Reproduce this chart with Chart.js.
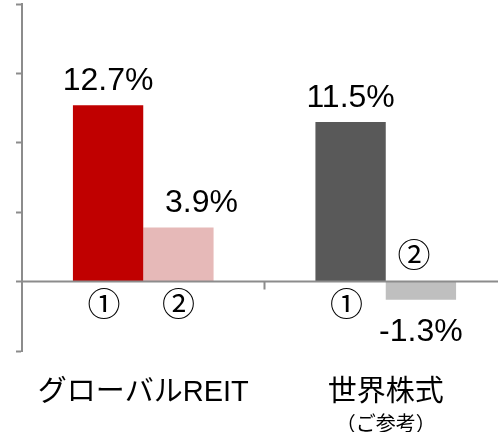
<!DOCTYPE html>
<html lang="ja">
<head>
    <meta charset="UTF-8">
    <title>グローバルREITと世界株式</title>
    <script src="https://cdn.jsdelivr.net/npm/chart.js"></script>
    <style>
        html, body { margin: 0; padding: 0; background: #fff; overflow: hidden; }
        #wrap { position: relative; width: 510px; height: 432px; }
    </style>
</head>
<body>
    <div id="wrap"><canvas id="grafico"></canvas></div>

    <script>
        // dados
        const categorias = ['グローバルREIT', '世界株式'];
        const subRotulos = ['', '（ご参考）'];
        const serie1 = [12.7, 11.5];
        const serie2 = [3.9, -1.3];
        const nomesSeries = ['①', '②'];
        const cores1 = ['#C00000', '#595959'];
        const cores2 = ['#E6B9B8', '#BFBFBF'];

        const fonteLatina = '"Liberation Sans", Arial, "Noto Sans CJK JP", sans-serif';
        const fonteJP = '"Noto Sans CJK JP", "Liberation Sans", sans-serif';

        // rotulos de valor, numeros circulados e categorias
        const rotulosPlugin = {
            id: 'rotulos',
            afterDatasetsDraw(chart) {
                const ctx = chart.ctx;
                const y = chart.scales.y;
                const x = chart.scales.x;
                const zero = y.getPixelForValue(0);
                const deslocX = [[0, 0], [23, 0]];

                ctx.save();
                ctx.fillStyle = '#000';
                ctx.textAlign = 'center';

                chart.data.datasets.forEach((ds, d) => {
                    const meta = chart.getDatasetMeta(d);
                    meta.data.forEach((bar, i) => {
                        const v = ds.data[i];
                        // valor
                        ctx.font = '32px ' + fonteLatina;
                        ctx.textBaseline = 'alphabetic';
                        const texto = v.toFixed(1) + '%';
                        if (v >= 0) {
                            ctx.fillText(texto, bar.x + deslocX[d][i], bar.y - 15);
                        } else {
                            ctx.fillText(texto, bar.x + deslocX[d][i], bar.y + 41);
                        }
                        // numero circulado
                        ctx.font = '33px ' + fonteJP;
                        ctx.textBaseline = 'middle';
                        const ajuste = (d === 0) ? -4 : (v < 0 ? -7 : 0);
                        const ym = v < 0 ? zero - 27 : zero + 22;
                        ctx.fillText(nomesSeries[d], bar.x + ajuste, ym);
                    });
                });

                // categorias
                const base = chart.chartArea.bottom;
                categorias.forEach((c, i) => {
                    const cx = x.getPixelForValue(i);
                    ctx.font = '29px ' + fonteLatina;
                    ctx.textBaseline = 'middle';
                    ctx.fillText(c, cx, base + 42);
                    if (subRotulos[i]) {
                        ctx.font = '20px ' + fonteJP;
                        ctx.fillText(subRotulos[i], cx, base + 72);
                    }
                });

                // linha do zero e marca entre categorias
                ctx.strokeStyle = '#8C8C8C';
                ctx.lineWidth = 2;
                ctx.beginPath();
                ctx.moveTo(chart.chartArea.left, zero);
                ctx.lineTo(chart.width, zero);
                const meio = (x.getPixelForValue(0) + x.getPixelForValue(1)) / 2;
                ctx.moveTo(meio, zero);
                ctx.lineTo(meio, zero + 8);
                ctx.stroke();
                ctx.restore();
            }
        };

        new Chart(document.getElementById('grafico'), {
            type: 'bar',
            data: {
                labels: categorias,
                datasets: [
                    { label: nomesSeries[0], data: serie1, backgroundColor: cores1 },
                    { label: nomesSeries[1], data: serie2, backgroundColor: cores2 }
                ]
            },
            options: {
                responsive: true,
                maintainAspectRatio: false,
                animation: false,
                layout: { padding: { left: 16, top: 4, right: 3, bottom: 81 } },
                datasets: { bar: { categoryPercentage: 0.58, barPercentage: 1 } },
                plugins: {
                    legend: { display: false },
                    tooltip: { enabled: false }
                },
                scales: {
                    x: { display: false },
                    y: {
                        min: -5,
                        max: 20,
                        ticks: { stepSize: 5, display: false },
                        grid: { drawOnChartArea: false, tickLength: 6, tickColor: '#8C8C8C', tickWidth: 2 },
                        border: { color: '#8C8C8C', width: 2 }
                    }
                }
            },
            plugins: [rotulosPlugin]
        });
    </script>
</body>
</html>
